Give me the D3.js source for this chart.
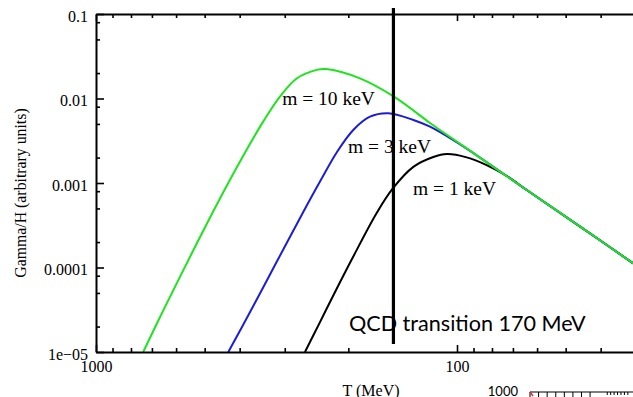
<!DOCTYPE html>
<html>
<head>
<meta charset="utf-8">
<script src="https://cdn.jsdelivr.net/npm/d3@7"></script>
<style>
  html, body { margin: 0; padding: 0; background: #fff; overflow: hidden; }
  svg { display: block; }
  .axis text { font-family: "Liberation Serif", "Times New Roman", serif; font-size: 16px; fill: #000; }
  .axis path, .axis line { stroke: #000; }
</style>
</head>
<body>
<svg id="chart" width="633" height="397"></svg>
<script>
// axis ticks
const xMajor = [1000, 100];
const xMinor = [900, 800, 700, 600, 500, 400, 300, 200, 90, 80, 70, 60, 50, 40, 30, 20];
const yMajor = [0.1, 0.01, 0.001, 0.0001, 0.00001];
const yLabels = ['0.1', '0.01', '0.001', '0.0001', '1e\u221205'];
const yMinor = [0.08, 0.05, 0.02, 0.008, 0.005, 0.002, 0.0008, 0.0005, 0.0002, 0.00008, 0.00005, 0.00002];

// curves: T in MeV, Gamma/H
const tempGreen = [740, 651, 526, 453.5, 399, 344, 309, 278, 244.7, 230.6, 185.7, 149.5, 118.8, 111.5, 86.4, 64.1, 45.6, 32.5];
const gammaGreen = [1e-5, 3.11e-5, 1.92e-4, 6.56e-4, 1.80e-3, 5.36e-3, 0.0106, 0.01725, 0.0218, 0.0223, 0.0173, 0.0105, 5.13e-3, 4.24e-3, 2.0e-3, 8.26e-4, 3.05e-4, 1.12e-4];

const tempBlue = [430, 366.7, 329.6, 296.3, 266.6, 239.6, 215.4, 193.8, 174.2, 155, 132.1, 118.8, 102.6, 86.4, 64.1, 45.6, 32.5];
const gammaBlue = [1e-5, 3.5e-5, 8.27e-5, 1.95e-4, 4.54e-4, 1.04e-3, 2.30e-3, 4.24e-3, 6.09e-3, 6.68e-3, 5.57e-3, 4.64e-3, 3.23e-3, 2.0e-3, 8.26e-4, 3.05e-4, 1.12e-4];

const tempBlack = [263.7, 239.6, 220.5, 194.1, 166.9, 150.2, 132.1, 116.3, 106.6, 94.0, 82.8, 72.8, 64.1, 45.6, 32.5];
const gammaBlack = [1e-5, 2.26e-5, 4.6e-5, 1.33e-4, 4.42e-4, 8.73e-4, 1.55e-3, 2.03e-3, 2.2e-3, 2.01e-3, 1.63e-3, 1.21e-3, 8.26e-4, 3.05e-4, 1.12e-4];

// curve labels: text, anchor T, anchor Gamma
const curveLabels = ['m = 10 keV', 'm = 3 keV', 'm = 1 keV'];
const labelTemps = [305, 200.4, 132.4];
const labelGammas = [8.37e-3, 2.25e-3, 7.21e-4];

// QCD transition marker
const qcdTemp = 150;
const qcdRange = [0.118, 1.245e-5];
const qcdText = 'QCD transition 170 MeV';
const qcdTextAt = [199.2, 1.77e-5];

// bit of the next figure peeking in at the bottom right
const insetLabel = '1000';
const insetTicks = [0, 1, 2, 3, 4, 5, 6, 7, 9, 9.4, 9.8, 10.2, 10.6, 11, 11.4];

const svg = d3.select('#chart');
const plotLeft = 96, plotTop = 14, plotBottom = 352, plotRight = 633;

const x = d3.scaleLog().domain([1000, 10]).range([plotLeft, plotLeft + 2 * 361]);
const y = d3.scaleLog().domain([1e-5, 0.1]).range([plotBottom, plotTop]);

// clip for the curves
svg.append('defs').append('clipPath')
  .attr('id', 'plot-clip')
  .append('rect')
  .attr('x', plotLeft)
  .attr('y', plotTop)
  .attr('width', plotRight - plotLeft + 10)
  .attr('height', plotBottom - plotTop);

const series = [
  { temps: tempBlack, gammas: gammaBlack, color: '#000000' },
  { temps: tempBlue, gammas: gammaBlue, color: '#1c1cd8' },
  { temps: tempGreen, gammas: gammaGreen, color: '#1ee41e' }
];

const line = d3.line()
  .x(d => x(d.t))
  .y(d => y(d.g))
  .curve(d3.curveCatmullRom.alpha(0.5));

const curves = svg.append('g').attr('clip-path', 'url(#plot-clip)');
series.forEach(s => {
  const pts = s.temps.map((t, i) => ({ t, g: s.gammas[i] }));
  curves.append('path')
    .datum(pts)
    .attr('fill', 'none')
    .attr('stroke', s.color)
    .attr('stroke-width', 2)
    .attr('d', line);
});

// axes: bottom, top, left (ticks pointing in)
svg.append('g')
  .attr('class', 'axis')
  .attr('transform', `translate(0,${plotBottom})`)
  .call(d3.axisBottom(x).tickValues(xMajor).tickSize(-7).tickSizeOuter(0).tickPadding(9).tickFormat(d3.format('d')));
svg.append('g')
  .attr('class', 'axis')
  .attr('transform', `translate(0,${plotBottom})`)
  .call(d3.axisBottom(x).tickValues(xMinor).tickSize(-4).tickSizeOuter(0).tickFormat(''))
  .select('.domain').remove();

svg.append('g')
  .attr('class', 'axis')
  .attr('transform', `translate(0,${plotTop})`)
  .call(d3.axisTop(x).tickValues(xMajor).tickSize(-7).tickSizeOuter(0).tickFormat(''));
svg.append('g')
  .attr('class', 'axis')
  .attr('transform', `translate(0,${plotTop})`)
  .call(d3.axisTop(x).tickValues(xMinor).tickSize(-4).tickSizeOuter(0).tickFormat(''))
  .select('.domain').remove();

const leftAxis = svg.append('g')
  .attr('class', 'axis')
  .attr('transform', `translate(${plotLeft},0)`)
  .call(d3.axisLeft(y).tickValues(yMajor).tickSize(-8).tickSizeOuter(0).tickPadding(8)
    .tickFormat((d, i) => yLabels[i]));
leftAxis.selectAll('text').attr('dy', '7px');
svg.append('g')
  .attr('class', 'axis')
  .attr('transform', `translate(${plotLeft},0)`)
  .call(d3.axisLeft(y).tickValues(yMinor).tickSize(-4).tickSizeOuter(0).tickFormat(''))
  .select('.domain').remove();

svg.selectAll('.axis .domain').attr('stroke-width', 2);
svg.selectAll('.axis .tick line').attr('stroke-width', 1.6);

// axis titles
svg.append('text')
  .attr('transform', 'translate(26,193) rotate(-90)')
  .attr('text-anchor', 'middle')
  .style('font-family', '"Liberation Serif", "Times New Roman", serif')
  .style('font-size', '15.8px')
  .text('Gamma/H (arbitrary units)');

svg.append('text')
  .attr('x', 371)
  .attr('y', 396)
  .attr('text-anchor', 'middle')
  .style('font-family', '"Liberation Serif", "Times New Roman", serif')
  .style('font-size', '16px')
  .text('T (MeV)');

// curve labels
curveLabels.forEach((txt, i) => {
  svg.append('text')
    .attr('x', x(labelTemps[i]))
    .attr('y', y(labelGammas[i]))
    .style('font-family', '"Liberation Serif", "Times New Roman", serif')
    .style('font-size', '19.5px')
    .text(txt);
});

// QCD annotation
svg.append('text')
  .attr('x', x(qcdTextAt[0]))
  .attr('y', y(qcdTextAt[1]))
  .style('font-family', 'Lato, "Open Sans", sans-serif')
  .style('font-size', '21.6px')
  .text(qcdText);

svg.append('line')
  .attr('x1', x(qcdTemp))
  .attr('x2', x(qcdTemp))
  .attr('y1', y(qcdRange[0]))
  .attr('y2', y(qcdRange[1]))
  .attr('stroke', '#000')
  .attr('stroke-width', 3.2);

// inset fragment
const inset = svg.append('g');
const ix = d3.scaleLinear().domain([0, 12]).range([530, 633]);
inset.append('text')
  .attr('x', 518)
  .attr('y', 396)
  .attr('text-anchor', 'end')
  .style('font-family', 'Lato, "Open Sans", sans-serif')
  .style('font-size', '13px')
  .text(insetLabel);
inset.append('line')
  .attr('x1', ix(0)).attr('x2', 633)
  .attr('y1', 392).attr('y2', 392)
  .attr('stroke', '#000').attr('stroke-width', 1.2);
inset.selectAll('.it')
  .data(insetTicks)
  .enter()
  .append('line')
  .attr('x1', d => ix(d)).attr('x2', d => ix(d))
  .attr('y1', 392).attr('y2', d => d > 8 ? 395 : 397)
  .attr('stroke', '#000').attr('stroke-width', 1);
inset.append('path')
  .attr('d', `M${ix(0)},392 L${ix(0) + 3},396`)
  .attr('stroke', '#e0203a').attr('stroke-width', 1.4);
</script>
</body>
</html>
